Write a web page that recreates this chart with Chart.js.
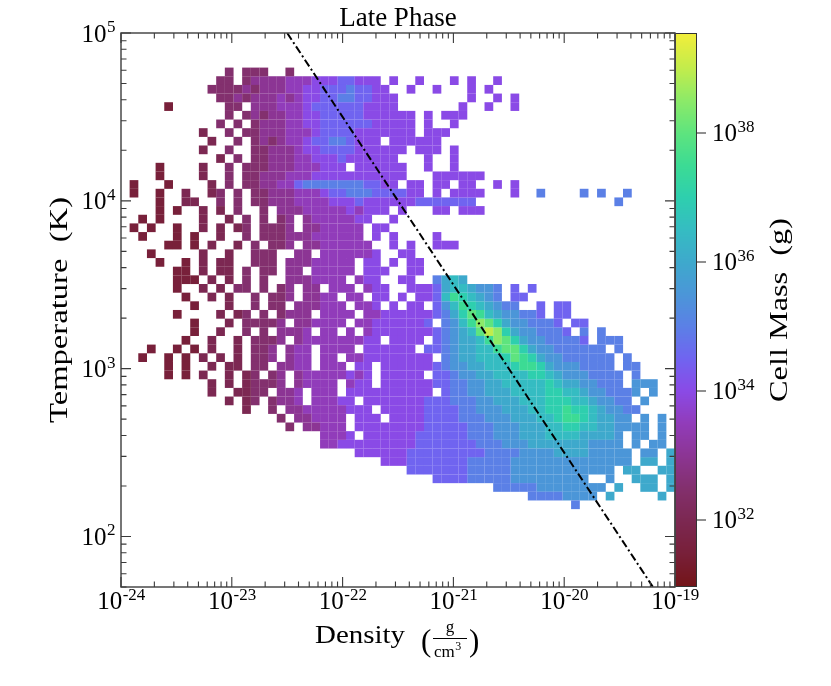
<!DOCTYPE html>
<html>
<head>
<meta charset="utf-8">
<script src="https://cdn.jsdelivr.net/npm/chart.js@4.4.1/dist/chart.umd.min.js"></script>
<style>
html,body{margin:0;padding:0;background:#ffffff;}
#wrap{width:831px;height:686px;position:relative;}
canvas{display:block;}
</style>
</head>
<body>
<div id="wrap"><canvas id="chart" width="831" height="686"></canvas></div>
<script>
// ---------------- DATA ----------------
const chartTitle = 'Late Phase';
const xAxisWord = 'Density';
const yAxisTitle = 'Temperature  (K)';
const cbarTitle = 'Cell Mass  (g)';

const xTickExponents = [-24, -23, -22, -21, -20, -19];   // density 10^n g/cm^3
const yTickExponents = [2, 3, 4, 5];                     // temperature 10^n K
const cbarTickExponents = [32, 34, 36, 38];              // cell mass 10^n g

const densityRange = [1e-24, 1e-19];
const temperatureRange = [50, 1e5];
const massLogRange = [30.96, 39.55];

const binsX = 64;          // histogram bins along density (log-spaced)
const binsY = 64;          // histogram bins along temperature (log-spaced)
const firstRow = 4;        // index (from top) of first listed temperature bin

// level code -> log10(cell mass / g)
const levelCodes = ['a','b','c','d','e','f','g','h','i','j','k','l','m','n','o','p','q'];
const levelLogMass = [31.0,31.5,32.0,32.5,33.0,33.5,34.0,34.5,35.0,35.5,36.0,36.5,37.0,37.5,38.0,38.5,39.0];

// 2D histogram, one string per temperature bin (top to bottom), one char per density bin
const massRows = [
"........ ....d.dd d..d.... ........ ........ ........ ........ ........",
"........ ...dd.de eeefffgg ghhggg.g ..g...g. g..g.... ........ ........",
"........ ..dddded eeeffggh hhihhgg. .g..g... g.g..... ........ ........",
"........ ...ddede eefefggh hiihhggg ........ g..g.g.. ........ ........",
".....b.. ....dd.e eefffghh hhhhgggg .......g ..g..g.. ........ ........",
"........ ....d.de deeffggh hhhhgggg gg.g.ggg ........ ........ ........",
"........ ...d.d.d eeeffggh hhhhhggg gg.g..g. ........ ........ ........",
"........ .c..d.dd eeefffgh hhhggggg gg.ggg.. ........ ........ ........",
"........ ..c..d.d edeffghh iihggg.g ggggg... ........ ........ ........",
"........ .c..d..d deeefggh hhhggggg g.ggg.g. ........ ........ ........",
"........ ...c.d.d deeeffgg ghgggggg ...g..g. ........ ........ ........",
"....b... .c..d.dd deeefffg gg.ggggg g..g..g. ........ ........ ........",
"....b... .c..d.dd eeefffgg gggggggg g...gggg gg...... ........ ........",
".b...b.. ..c.d.dd eeffhiii iiiihhgg .gg.gg.g g..g.g.. ........ ........",
".b..b..c ..cd.d.d deeefffg hhiiihhh hgg.g.gg gg...g.. i....i.i ..i.....",
"....b..c c..d.d.d deeeffff ggghgggg gghhhhhh h....... ........ .i......",
"....b.b. .c.c.d.. d.eeefff ffgfggg. g...gg.g gg...... ........ ........",
"..b.b... .c..c.d. d.de.eff fffgg..g ........ ........ ........ ........",
".b.b..b. .c.c.cd. ddde.eef ffff.gg. ........ ........ ........ ........",
"..b...b. b..c..d. dddeeeff ffff.g.g ....g... ........ ........ ........",
".....bb. b.c..c.d .dde.eef fffff..g .g..ggg. ........ ........ ........",
"...b.... .c..c..d dd..ee.f fffffg.. gg...... ........ ........ ........",
"....b..b .c.cc..d dd.eeeff fff.gg.g .gg..... ........ ........ ........",
"......bb .c.cc.d. dd.ee.ff fff.ggg. .gg..... ........ ........ ........",
"......bb b.c.c.d. d..eeeff ff.fgg.. gg..iklk ........ ........ ........",
"......b. .c.c.dd. d.de.ee. fff.fgg. .ggghkll kjji.h.h ........ ........",
".......b ..c.c..d .dde.eef f.ff.gg. g.gghlnm lkji.hh. ........ ........",
"........ b...c..d .dd.eeef ff.ffg.g .gg.hjln mlkjii.. h.hh.... ........",
"......b. ...c.cd. d.deee.f fff.ffgg gggghikm onlkjjii h.hh.... ........",
"........ b...c.dd dde.eeff ff.ffggg gggh.ijl npomkjji iih.hh.. ........",
"........ b..c..d. d.eeef.f f.f.fggg gggghijk loqpmkjj iiih.i.i ........",
".......b ..c..c.d dde.efff ffffgg.g ggg.hijk klnpomkj jiiiih.i ii......",
"...b..b. b.c..c.d de.eff.f fff.gggg gg.hhijk kllnoomk jjiiiiii .i......",
"..b..b.b .c.c.c.d de.eff.f f.ffgggg gggg.ijk klllmonm kjjiiiii i.i.....",
".....b.b ..c.cc.d d.eeff.f ff.gg.gg gggghijj kklllmnn mkjjjiii i.ii....",
".....b.b .c..c.cd .de.efff ffgfg.gg ggg.hhij jkkllllm mlkjjjii ii.i....",
"........ ..c.c.cd dde.efff f.fgg.gg gggghhii jjkkllll lmlkkjji ii.jjj..",
"........ ..c..ccd d.eef.ff f.gggggg gggg.hii jjkkklll lmmllkjj iiij.j..",
"........ ....c.cd .deef.ff fgg.gggg ggghhhii ijjkkkll lmmmllkj jii.j...",
"........ ......c. .d.eefff ffggg.gg ggghhhhi ijjjkkkl lmmnmmlk jjii....",
"........ ........ ..d.eeff ff.ggg.g ggghhhhi iijjjkkk llmnnmlk kjj.j.j.",
"........ ........ ...d.eef ff.ggggg ggghhhhh iiijjjkk kllmmllk kjjjj.j.",
"........ ........ .......f ffg.gggg gghhhhhh iiijjjkk kllllkkk kj.jj.j.",
"........ ........ .......f fggggggg gghhhhhh hiiijjjk kkkkkkjj jj.j.jj.",
"........ ........ ........ ...ggggg ghhhhhhh hhiiiijj jjkkkkjj jjj.jj.k",
"........ ........ ........ ......gg ghhhhhhh iiiiijjj jjjjjjjj jjj.kk.k",
"........ ........ ........ ........ .hhhhhhh iiiiijjj jjjjjjjj j.kk..kk",
"........ ........ ........ ........ ....hhhh iiiiijjj jjjjjj.. j..kkk.k",
"........ ........ ........ ........ ........ ...iiiii jjjjjjjj .k..kk.k",
"........ ........ ........ ........ ........ .......i iiijjjj. k.....k.",
"........ ........ ........ ........ ........ ........ ....i... ........"
];

// reference line T ~ rho^-1 (dash-dot)
const refLineLogDensity = [-22.5, -19.2];
const refLineLogTemp = [5.0, 1.7];

// ---------------- STYLE / LAYOUT ----------------
const FONT = '"Liberation Serif", "Times New Roman", "DejaVu Serif", serif';
const plotPad = {left: 121, top: 33, right: 156, bottom: 99};
const cbar = {left: 675, right: 697, top: 33, bottom: 587};
const cmapStops = [
  [30.96,'#731418'],[31.5,'#78203a'],[32.0,'#7c2852'],[32.5,'#83306e'],[33.0,'#8c3594'],
  [33.5,'#913cba'],[34.0,'#8a4ae6'],[34.5,'#7064f0'],[35.0,'#5b80e6'],[35.5,'#4b96d8'],
  [36.0,'#3ea9cc'],[36.5,'#35bcc2'],[37.0,'#2ecfae'],[37.5,'#3cdb94'],[38.0,'#5ee47e'],
  [38.5,'#8cea68'],[39.0,'#c2ec4c'],[39.55,'#f3ee3a']
];
function hexToRgb(h){return [parseInt(h.substr(1,2),16),parseInt(h.substr(3,2),16),parseInt(h.substr(5,2),16)];}
function cmap(v){
  if (v <= cmapStops[0][0]) return cmapStops[0][1];
  for (let i=1;i<cmapStops.length;i++){
    if (v <= cmapStops[i][0]){
      const [v0,c0]=cmapStops[i-1],[v1,c1]=cmapStops[i];
      const t=(v-v0)/(v1-v0); const a=hexToRgb(c0), b=hexToRgb(c1);
      return 'rgb('+a.map((x,k)=>Math.round(x+(b[k]-x)*t)).join(',')+')';
    }
  }
  return cmapStops[cmapStops.length-1][1];
}

// ---------------- BUILD DATASETS ----------------
const lx0 = Math.log10(densityRange[0]), lx1 = Math.log10(densityRange[1]);
const ly0 = Math.log10(temperatureRange[0]), ly1 = Math.log10(temperatureRange[1]);
const dLx = (lx1-lx0)/binsX, dLy = (ly1-ly0)/binsY;
const cellPx = (831 - plotPad.left - plotPad.right) / binsX;
const cellRadius = cellPx / (2*Math.SQRT1_2) + 0.05;

const cellDatasets = levelCodes.map((code,k)=>({
  label: 'cells '+code,
  data: [],
  backgroundColor: cmap(levelLogMass[k]),
  pointBackgroundColor: cmap(levelLogMass[k]),
  pointStyle: 'rect',
  pointRadius: cellRadius,
  pointHoverRadius: cellRadius,
  pointBorderWidth: 0,
  borderWidth: 0,
  order: 1
}));
massRows.forEach((rowStr, r)=>{
  const s = rowStr.replace(/ /g,'');
  const jy = firstRow + r;
  const logT = ly1 - (jy + 0.5)*dLy;
  for (let c=0;c<Math.min(s.length,binsX);c++){
    const k = levelCodes.indexOf(s[c]);
    if (k < 0) continue;
    const logRho = lx0 + (c + 0.5)*dLx;
    cellDatasets[k].data.push({x: Math.pow(10,logRho), y: Math.pow(10,logT)});
  }
});
const lineDataset = {
  label: 'ref',
  data: refLineLogDensity.map((lr,i)=>({x: Math.pow(10,lr), y: Math.pow(10,refLineLogTemp[i])})),
  showLine: true,
  borderColor: '#000000',
  borderWidth: 2,
  borderDash: [8, 3, 2, 3],
  pointRadius: 0,
  pointHoverRadius: 0,
  fill: false,
  order: 0
};

// ---------------- TEXT HELPERS ----------------
function powWidth(ctx, base, exp, bs, es){
  ctx.font = bs+'px '+FONT; const w1 = ctx.measureText(base).width;
  ctx.font = es+'px '+FONT; const w2 = ctx.measureText(exp).width;
  return [w1,w2];
}
function drawPow(ctx, exp, x, baseline, align){
  const bs = 25, es = 17, base='10', e=String(exp);
  const [w1,w2] = powWidth(ctx, base, e, bs, es);
  let x0 = x;
  if (align==='center') x0 = x - (w1+w2)/2;
  else if (align==='right') x0 = x - (w1+w2);
  ctx.textAlign='left'; ctx.textBaseline='alphabetic';
  ctx.font = bs+'px '+FONT; ctx.fillText(base, x0, baseline);
  ctx.font = es+'px '+FONT; ctx.fillText(e, x0+w1+0.5, baseline-9.5);
}
function drawFit(ctx, text, x, y, targetW, rot){
  const w = ctx.measureText(text).width;
  ctx.save(); ctx.translate(x,y); if (rot) ctx.rotate(rot);
  ctx.scale(targetW/w, 1); ctx.textAlign='center'; ctx.textBaseline='alphabetic';
  ctx.fillText(text, 0, 0); ctx.restore();
}

// ---------------- DECORATION PLUGIN ----------------
const decor = {
  id: 'decor',
  afterDatasetsDraw(chart){
    const ctx = chart.ctx, xs = chart.scales.x, ys = chart.scales.y, a = chart.chartArea;
    ctx.save();
    ctx.strokeStyle = '#4a4a4a'; ctx.lineWidth = 1.5;
    ctx.strokeRect(a.left, a.top, a.right-a.left, a.bottom-a.top);
    ctx.strokeStyle = '#3a3a3a'; ctx.lineWidth = 1.1;
    ctx.beginPath();
    for (let e=-25;e<=-19;e++) for (let m=1;m<=9;m++){
      const v = m*Math.pow(10,e);
      if (v < densityRange[0]*0.999 || v > densityRange[1]*1.001) continue;
      const px = xs.getPixelForValue(v), L = m===1?10:5.5;
      ctx.moveTo(px, a.bottom); ctx.lineTo(px, a.bottom-L);
      ctx.moveTo(px, a.top); ctx.lineTo(px, a.top+L);
    }
    for (let e=1;e<=5;e++) for (let m=1;m<=9;m++){
      const v = m*Math.pow(10,e);
      if (v < temperatureRange[0]*0.999 || v > temperatureRange[1]*1.001) continue;
      const py = ys.getPixelForValue(v), L = m===1?10:5.5;
      ctx.moveTo(a.left, py); ctx.lineTo(a.left+L, py);
      ctx.moveTo(a.right, py); ctx.lineTo(a.right-L, py);
    }
    ctx.stroke();
    ctx.restore();
  },
  afterDraw(chart){
    const ctx = chart.ctx, xs = chart.scales.x, ys = chart.scales.y, a = chart.chartArea;
    ctx.save();
    ctx.fillStyle = '#000';
    xTickExponents.forEach(e=>drawPow(ctx, e, xs.getPixelForValue(Math.pow(10,e)), 609, 'center'));
    yTickExponents.forEach(e=>drawPow(ctx, e, 115, ys.getPixelForValue(Math.pow(10,e))+8.5, 'right'));
    const H = cbar.bottom - cbar.top;
    for (let py=cbar.top; py<cbar.bottom; py++){
      const v = massLogRange[1] - (py + 0.5 - cbar.top)/H*(massLogRange[1]-massLogRange[0]);
      ctx.fillStyle = cmap(v); ctx.fillRect(cbar.left, py, cbar.right-cbar.left, 1);
    }
    ctx.strokeStyle = '#333'; ctx.lineWidth = 1;
    ctx.strokeRect(cbar.left+0.5, cbar.top+0.5, cbar.right-cbar.left-1, H-1);
    ctx.fillStyle = '#000';
    ctx.beginPath();
    cbarTickExponents.forEach(e=>{
      const py = cbar.bottom - (e - massLogRange[0])/(massLogRange[1]-massLogRange[0])*H;
      ctx.moveTo(cbar.right, py); ctx.lineTo(cbar.right+9, py);
      drawPow(ctx, e, 712, py+8.5, 'left');
    });
    ctx.strokeStyle = '#222'; ctx.lineWidth = 1.1; ctx.stroke();
    ctx.strokeStyle = '#4a4a4a'; ctx.lineWidth = 1.5;
    ctx.beginPath(); ctx.moveTo(a.right, a.top); ctx.lineTo(a.right, a.bottom); ctx.stroke();
    ctx.fillStyle = '#000';
    ctx.font = '27px '+FONT; ctx.textAlign='center'; ctx.textBaseline='alphabetic';
    ctx.fillText(chartTitle, (a.left+a.right)/2, 26);
    ctx.font = '26px '+FONT;
    drawFit(ctx, yAxisTitle, 67, (a.top+a.bottom)/2, 226, -Math.PI/2);
    drawFit(ctx, cbarTitle, 787, (cbar.top+cbar.bottom)/2, 184, -Math.PI/2);
    ctx.font = '25px '+FONT;
    drawFit(ctx, xAxisWord, 360, 643, 90, 0);
    ctx.textAlign='left';
    ctx.font = '31px '+FONT; ctx.fillText('(', 421, 651);
    ctx.font = '17px '+FONT; ctx.textAlign='center'; ctx.fillText('g', 450, 632);
    ctx.beginPath(); ctx.moveTo(433, 638.5); ctx.lineTo(467, 638.5); ctx.strokeStyle='#000'; ctx.lineWidth=1; ctx.stroke();
    ctx.textAlign='left'; ctx.font = '17px '+FONT; ctx.fillText('cm', 434, 657);
    const wcm = ctx.measureText('cm').width;
    ctx.font = '12px '+FONT; ctx.fillText('3', 434+wcm+0.5, 650);
    ctx.font = '31px '+FONT; ctx.fillText(')', 469, 651);
    ctx.restore();
  }
};

// ---------------- CHART ----------------
new Chart(document.getElementById('chart').getContext('2d'), {
  type: 'scatter',
  data: { datasets: [lineDataset].concat(cellDatasets) },
  options: {
    responsive: false,
    animation: false,
    events: [],
    layout: { padding: plotPad },
    plugins: { legend: {display:false}, title: {display:false}, tooltip: {enabled:false} },
    scales: {
      x: { type:'logarithmic', min: densityRange[0], max: densityRange[1], display:false },
      y: { type:'logarithmic', min: temperatureRange[0], max: temperatureRange[1], display:false }
    }
  },
  plugins: [decor]
});
</script>
</body>
</html>
